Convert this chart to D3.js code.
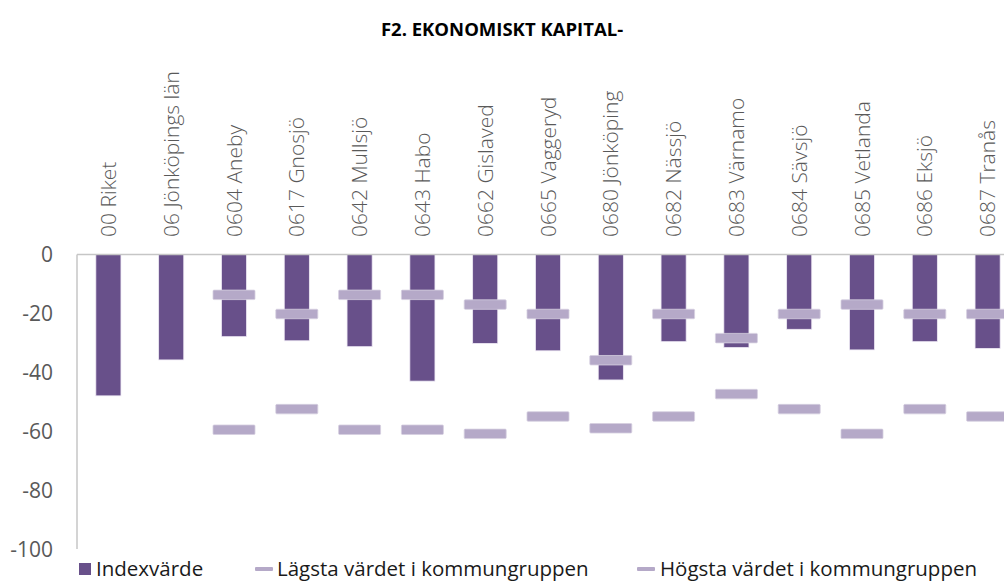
<!DOCTYPE html>
<html>
<head>
<meta charset="utf-8">
<script src="https://cdn.jsdelivr.net/npm/d3@7"></script>
<style>
  body { margin: 0; background: #fff; }
  svg text { font-family: "Open Sans", "Noto Sans", sans-serif; }
</style>
</head>
<body>
<svg width="1004" height="581"></svg>
<script>
///////////////////////////////////////////////////
// Data
///////////////////////////////////////////////////

let categories = ["00 Riket", "06 Jönköpings län", "0604 Aneby", "0617 Gnosjö", "0642 Mullsjö",
  "0643 Habo", "0662 Gislaved", "0665 Vaggeryd", "0680 Jönköping", "0682 Nässjö",
  "0683 Värnamo", "0684 Sävsjö", "0685 Vetlanda", "0686 Eksjö", "0687 Tranås"];

// index value per area
let indexValues = [-48.0, -35.8, -27.9, -29.3, -31.3, -43.0, -30.2, -32.7, -42.6, -29.6,
  -31.6, -25.4, -32.4, -29.6, -31.9];

// lowest value in the municipality group (null = none)
let lowValues = [null, null, -59.5, -52.5, -59.5, -59.5, -60.9, -55.0, -59.0, -55.0,
  -47.4, -52.5, -60.9, -52.5, -55.0];

// highest value in the municipality group
let highValues = [null, null, -13.7, -20.2, -13.7, -13.7, -17.0, -20.2, -35.9, -20.2,
  -28.4, -20.2, -17.0, -20.2, -20.2];

let yTicks = [0, -20, -40, -60, -80, -100];

let seriesNames = ["Indexvärde", "Lägsta värdet i kommungruppen", "Högsta värdet i kommungruppen"];

///////////////////////////////////////////////////
// Setup
///////////////////////////////////////////////////

let svg = d3.select("svg");

let barColor = "#68508a",
    dashColor = "#b5a9c8",
    axisColor = "#c6c6c6",
    textGray = "#595959";

let plot = { left: 77, right: 1019, top: 254.5, bottom: 549 };

let x = d3.scaleBand()
  .domain(categories)
  .range([plot.left, plot.right])
  .paddingInner(0.6)
  .paddingOuter(0.3);

let y = d3.scaleLinear()
  .domain([0, -100])
  .range([plot.top, plot.bottom]);

// title
svg.append("text")
  .attr("x", 502)
  .attr("y", 36)
  .attr("text-anchor", "middle")
  .style("font-size", "18.5px")
  .style("font-weight", "bold")
  .style("fill", "#000")
  .text("F2. EKONOMISKT KAPITAL-");

// y axis labels
svg.append("g").selectAll("text")
  .data(yTicks)
  .enter().append("text")
  .attr("x", 53)
  .attr("y", function(d) { return y(d); })
  .attr("dy", "0.36em")
  .attr("text-anchor", "end")
  .style("font-size", "21px")
  .style("fill", textGray)
  .text(function(d) { return d; });

// axis lines
svg.append("line")
  .attr("x1", plot.left).attr("x2", plot.left)
  .attr("y1", y(0)).attr("y2", y(-100))
  .style("stroke", axisColor)
  .style("stroke-width", 1.5);

// bars
svg.append("g").selectAll("rect")
  .data(indexValues)
  .enter().append("rect")
  .attr("x", function(d, i) { return x(categories[i]); })
  .attr("y", y(0))
  .attr("width", x.bandwidth())
  .attr("height", function(d) { return y(d) - y(0); })
  .style("fill", barColor)
  .style("stroke", "#efeaf5")
  .style("stroke-width", 0.8);

svg.append("line")
  .attr("x1", plot.left).attr("x2", 1004)
  .attr("y1", y(0)).attr("y2", y(0))
  .style("stroke", axisColor)
  .style("stroke-width", 1.5);

// dash markers
let dashW = 42, dashH = 9.5;

function drawDashes(values) {
  svg.append("g").selectAll("rect")
    .data(values.map(function(v, i) { return { v: v, c: categories[i] }; })
      .filter(function(d) { return d.v !== null; }))
    .enter().append("rect")
    .attr("x", function(d) { return x(d.c) + x.bandwidth() / 2 - dashW / 2; })
    .attr("y", function(d) { return y(d.v) - dashH / 2; })
    .attr("width", dashW)
    .attr("height", dashH)
    .attr("rx", 1)
    .style("fill", dashColor)
    .style("stroke", "#d6cfe0")
    .style("stroke-width", 0.8);
}
drawDashes(lowValues);
drawDashes(highValues);

// category labels, reading bottom to top
svg.append("g").selectAll("text")
  .data(categories)
  .enter().append("text")
  .attr("transform", function(d) {
    return "translate(" + (x(d) + x.bandwidth() / 2) + ",237) rotate(-90)";
  })
  .attr("dy", "0.36em")
  .attr("text-anchor", "start")
  .style("font-size", "21px")
  .style("font-weight", 300)
  .style("fill", textGray)
  .text(function(d) { return d; });

///////////////////////////////////////////////////
// Legend
///////////////////////////////////////////////////

let legend = svg.append("g");
let legendY = 569;

legend.append("rect")
  .attr("x", 79).attr("y", legendY - 6)
  .attr("width", 12).attr("height", 12)
  .style("fill", barColor);

legend.append("rect")
  .attr("x", 255).attr("y", legendY - 2)
  .attr("width", 18).attr("height", 4)
  .attr("rx", 1)
  .style("fill", dashColor);

legend.append("rect")
  .attr("x", 637).attr("y", legendY - 2)
  .attr("width", 18).attr("height", 4)
  .attr("rx", 1)
  .style("fill", dashColor);

legend.selectAll("text")
  .data(seriesNames)
  .enter().append("text")
  .attr("x", function(d, i) { return [96, 277, 660][i]; })
  .attr("y", legendY)
  .attr("dy", "0.36em")
  .style("font-size", "20.5px")
  .style("fill", "#1a1a1a")
  .text(function(d) { return d; });
</script>
</body>
</html>
